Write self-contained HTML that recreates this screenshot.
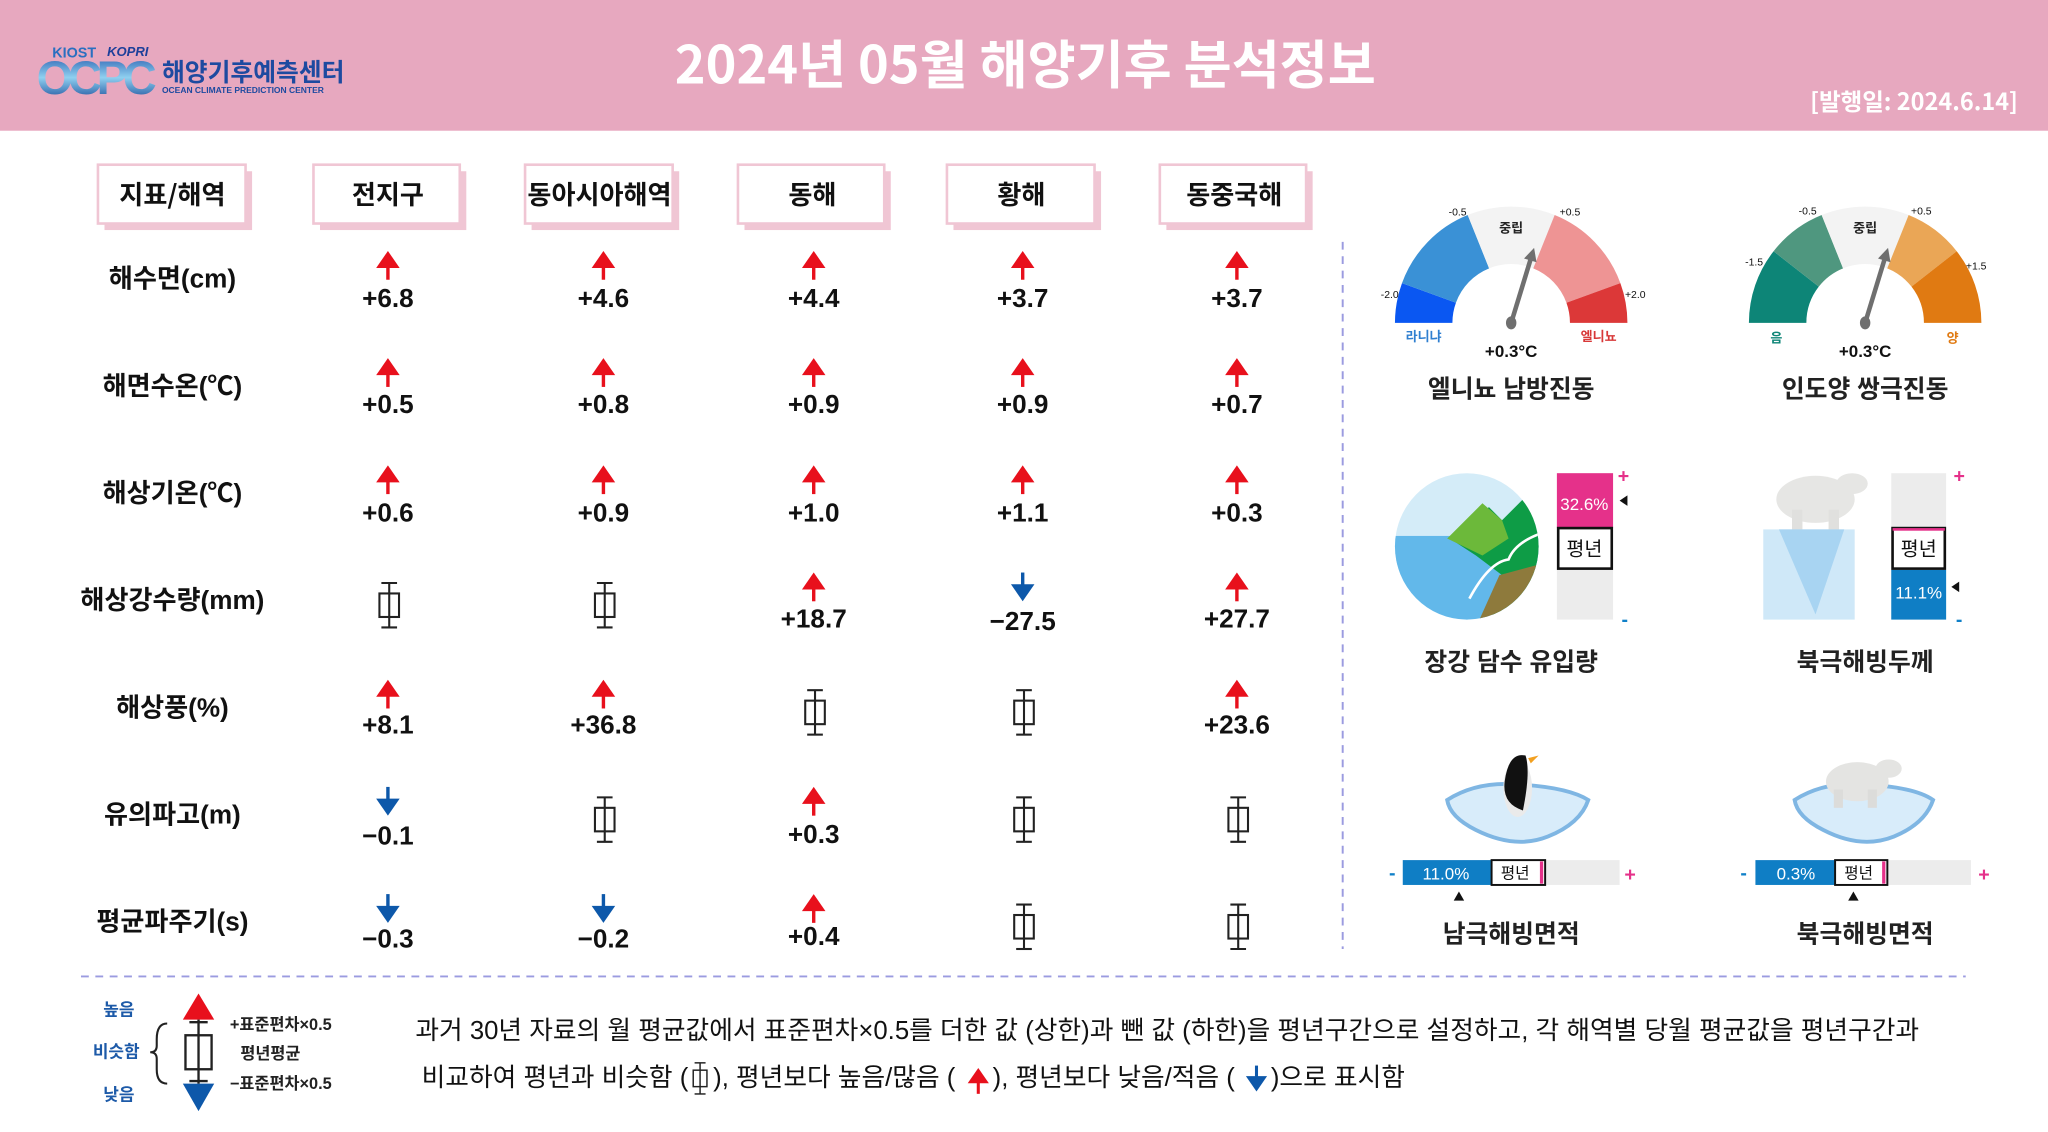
<!DOCTYPE html>
<html><head><meta charset="utf-8">
<style>
html,body{margin:0;padding:0;background:#fff;}
svg{display:block;}
text{font-family:"Liberation Sans","Noto Sans CJK KR",sans-serif;}
.k{font-family:"Noto Sans CJK KR","Liberation Sans",sans-serif;}
</style></head><body>
<svg id="s" width="2048" height="1132" viewBox="0 0 1568 866" preserveAspectRatio="none" xmlns="http://www.w3.org/2000/svg">
<defs>
<linearGradient id="lg" x1="0" y1="0" x2="0" y2="1"><stop offset="0" stop-color="#1c4fa8"/><stop offset="0.5" stop-color="#8fd0f0"/><stop offset="1" stop-color="#0d3d90"/></linearGradient>
<g id="up"><polygon points="-9,3 0,-10 9,3" fill="#e8101c"/><rect x="-1.3" y="2" width="2.6" height="10" fill="#e8101c"/></g>
<g id="dn"><polygon points="-9,-3 0,10 9,-3" fill="#0d58aa"/><rect x="-1.3" y="-12" width="2.6" height="10" fill="#0d58aa"/></g>
<g id="nm" stroke="#222" stroke-width="1.6" fill="none"><line x1="0" y1="-17" x2="0" y2="17"/><line x1="-6" y1="-17" x2="6" y2="-17"/><line x1="-6" y1="17" x2="6" y2="17"/><rect x="-7.5" y="-9" width="15" height="18" fill="#fff"/><line x1="0" y1="-9" x2="0" y2="9"/></g>
</defs>
<!-- header -->
<rect x="0" y="0" width="1568" height="100" fill="#e7a8bf"/>
<text x="40" y="44" font-size="11" font-weight="bold" fill="#2a6fc0">KIOST</text>
<text x="82" y="43" font-size="10" font-weight="bold" font-style="italic" fill="#1d3f9a">KOPRI</text>
<text x="28" y="72" font-size="36" font-weight="bold" fill="url(#lg)" textLength="92">OCPC</text>
<text x="124" y="62" class="k" font-size="19" font-weight="bold" fill="#1d4aa0">해양기후예측센터</text>
<text x="124" y="71" font-size="6.5" font-weight="bold" fill="#1d4aa0">OCEAN CLIMATE PREDICTION CENTER</text>
<text x="785" y="64" text-anchor="middle" class="k" font-size="40" font-weight="bold" fill="#fff">2024년 05월 해양기후 분석정보</text>
<text x="1545" y="84" text-anchor="end" class="k" font-size="18" font-weight="bold" fill="#fff">[발행일: 2024.6.14]</text>
<g id="hd"></g>
<g id="grid"></g>
<!-- row labels -->
<g class="k" font-size="20" font-weight="bold" text-anchor="middle" fill="#111">
<text x="132" y="220">해수면(cm)</text>
<text x="132" y="302">해면수온(℃)</text>
<text x="132" y="384">해상기온(℃)</text>
<text x="132" y="466">해상강수량(mm)</text>
<text x="132" y="548">해상풍(%)</text>
<text x="132" y="630">유의파고(m)</text>
<text x="132" y="712">평균파주기(s)</text>
</g>
<g font-size="20" font-weight="bold" text-anchor="middle" fill="#111">
<text x="297" y="235">+6.8</text><text x="462" y="235">+4.6</text><text x="623" y="235">+4.4</text><text x="783" y="235">+3.7</text><text x="947" y="235">+3.7</text>
<text x="297" y="316">+0.5</text><text x="462" y="316">+0.8</text><text x="623" y="316">+0.9</text><text x="783" y="316">+0.9</text><text x="947" y="316">+0.7</text>
<text x="297" y="399">+0.6</text><text x="462" y="399">+0.9</text><text x="623" y="399">+1.0</text><text x="783" y="399">+1.1</text><text x="947" y="399">+0.3</text>
<text x="623" y="480">+18.7</text><text x="783" y="482">−27.5</text><text x="947" y="480">+27.7</text>
<text x="297" y="561">+8.1</text><text x="462" y="561">+36.8</text><text x="947" y="561">+23.6</text>
<text x="297" y="646">−0.1</text><text x="623" y="645">+0.3</text>
<text x="297" y="725">−0.3</text><text x="462" y="725">−0.2</text><text x="623" y="723">+0.4</text>
</g>
<line x1="1028" y1="185" x2="1028" y2="726" stroke="#9b9be0" stroke-width="1.5" stroke-dasharray="6,5"/>
<line x1="62" y1="747" x2="1505" y2="747" stroke="#9b9be0" stroke-width="1.5" stroke-dasharray="6,5"/>
<!-- gauges -->
<g id="g1"></g>
<g font-size="8" fill="#111" text-anchor="middle">
<text x="1064" y="228">-2.0</text><text x="1116" y="165">-0.5</text><text x="1202" y="165">+0.5</text><text x="1252" y="228">+2.0</text>
<text x="1343" y="203">-1.5</text><text x="1384" y="164">-0.5</text><text x="1471" y="164">+0.5</text><text x="1513" y="206">+1.5</text>
</g>
<g class="k" font-size="10" font-weight="bold" text-anchor="middle">
<text x="1157" y="178" fill="#222">중립</text><text x="1428" y="178" fill="#222">중립</text>
<text x="1090" y="261" fill="#2f7fd0">라니냐</text><text x="1224" y="261" fill="#d83838">엘니뇨</text>
<text x="1360" y="262" fill="#0e8577">음</text><text x="1495" y="262" fill="#e07a12">양</text>
</g>
<g font-size="13" font-weight="bold" text-anchor="middle" fill="#111">
<text x="1157" y="273">+0.3°C</text><text x="1428" y="273">+0.3°C</text>
</g>
<g class="k" font-size="19" font-weight="bold" text-anchor="middle" fill="#222">
<text x="1157" y="304">엘니뇨 남방진동</text><text x="1428" y="304">인도양 쌍극진동</text>
<text x="1157" y="513">장강 담수 유입량</text><text x="1428" y="513">북극해빙두께</text>
<text x="1157" y="721">남극해빙면적</text><text x="1428" y="721">북극해빙면적</text>
</g>
<!-- changjiang -->
<clipPath id="ov"><ellipse cx="1123" cy="418" rx="55" ry="56"/></clipPath>
<g clip-path="url(#ov)">
<rect x="1060" y="360" width="130" height="120" fill="#d4ecf8"/>
<rect x="1060" y="410" width="130" height="70" fill="#62b8ea"/>
<polygon points="1110,412 1140,388 1150,398 1168,380 1185,385 1185,480 1140,480 1150,440 1130,425" fill="#0e9c46"/>
<polygon points="1108,412 1135,385 1150,398 1155,412 1135,425" fill="#6cb93a"/>
<polygon points="1130,480 1148,440 1185,430 1185,480" fill="#8e7a3c"/>
<path d="M1125,458 Q1140,430 1155,428 Q1160,415 1180,408" stroke="#fff" stroke-width="2" fill="none"/>
</g>
<rect x="1192" y="362" width="43" height="112" fill="#ececec"/>
<rect x="1192" y="362" width="43" height="42" fill="#e5318a"/>
<text x="1213" y="390" text-anchor="middle" font-size="13" fill="#fff">32.6%</text>
<rect x="1193" y="404" width="41" height="31" fill="#fff" stroke="#111" stroke-width="2"/>
<text x="1213" y="425" text-anchor="middle" class="k" font-size="15" fill="#111">평년</text>
<text x="1243" y="369" text-anchor="middle" font-size="15" font-weight="bold" fill="#e5318a">+</text>
<text x="1244" y="479" text-anchor="middle" font-size="15" font-weight="bold" fill="#1080c8">-</text>
<polygon points="1240,383 1246,379 1246,387" fill="#111"/>
<!-- arctic thickness -->
<ellipse cx="1390" cy="382" rx="30" ry="18" fill="#e6e6e4"/>
<ellipse cx="1418" cy="370" rx="12" ry="8" fill="#e6e6e4"/>
<rect x="1372" y="390" width="8" height="16" fill="#e0e0de"/><rect x="1400" y="390" width="8" height="16" fill="#e0e0de"/>
<rect x="1350" y="405" width="70" height="69" fill="#cfe8f8"/>
<polygon points="1362,405 1412,405 1390,470" fill="#a8d4f2"/>
<rect x="1448" y="362" width="42" height="112" fill="#ececec"/>
<rect x="1448" y="436" width="42" height="38" fill="#0f7ec5"/>
<text x="1469" y="458" text-anchor="middle" font-size="13" fill="#fff">11.1%</text>
<rect x="1449" y="404" width="40" height="31" fill="#fff" stroke="#111" stroke-width="2"/>
<rect x="1449" y="404" width="40" height="2" fill="#e5318a"/>
<text x="1469" y="425" text-anchor="middle" class="k" font-size="15" fill="#111">평년</text>
<text x="1500" y="369" text-anchor="middle" font-size="15" font-weight="bold" fill="#e5318a">+</text>
<text x="1500" y="479" text-anchor="middle" font-size="15" font-weight="bold" fill="#1080c8">-</text>
<polygon points="1494,449 1500,445 1500,453" fill="#111"/>
<!-- floes -->
<path d="M1108,612 Q1130,598 1160,600 Q1200,602 1216,612 Q1210,630 1185,640 Q1160,650 1130,635 Q1110,625 1108,612Z" fill="#d8ecfa" stroke="#7fb6e3" stroke-width="3"/>
<ellipse cx="1162" cy="603" rx="11" ry="22" fill="#eaeaea"/>
<path d="M1152,598 Q1155,575 1168,578 Q1172,590 1166,620 Q1150,615 1152,598Z" fill="#111"/>
<polygon points="1170,580 1178,578 1172,584" fill="#f2a020"/>
<path d="M1374,612 Q1396,598 1426,600 Q1466,602 1480,612 Q1474,630 1450,640 Q1425,650 1396,635 Q1376,625 1374,612Z" fill="#d8ecfa" stroke="#7fb6e3" stroke-width="3"/>
<ellipse cx="1422" cy="598" rx="24" ry="15" fill="#e4e4e2"/>
<ellipse cx="1446" cy="588" rx="10" ry="7" fill="#e4e4e2"/>
<rect x="1404" y="604" width="7" height="14" fill="#dcdcda"/><rect x="1430" y="604" width="7" height="14" fill="#dcdcda"/>
<!-- area bars -->
<rect x="1074" y="658" width="166" height="19" fill="#ececec"/>
<rect x="1074" y="658" width="68" height="19" fill="#0f7ec5"/>
<text x="1107" y="673" text-anchor="middle" font-size="13" fill="#fff">11.0%</text>
<rect x="1142" y="658" width="41" height="19" fill="#fff" stroke="#111" stroke-width="1.5"/>
<rect x="1179" y="659" width="2.5" height="17" fill="#e5318a"/>
<text x="1160" y="672" text-anchor="middle" class="k" font-size="12" fill="#111">평년</text>
<text x="1066" y="673" text-anchor="middle" font-size="15" font-weight="bold" fill="#1080c8">-</text>
<text x="1248" y="674" text-anchor="middle" font-size="15" font-weight="bold" fill="#e5318a">+</text>
<polygon points="1117,682 1113,689 1121,689" fill="#111"/>
<rect x="1344" y="658" width="165" height="19" fill="#ececec"/>
<rect x="1344" y="658" width="61" height="19" fill="#0f7ec5"/>
<text x="1375" y="673" text-anchor="middle" font-size="13" fill="#fff">0.3%</text>
<rect x="1405" y="658" width="40" height="19" fill="#fff" stroke="#111" stroke-width="1.5"/>
<rect x="1441" y="659" width="2.5" height="17" fill="#e5318a"/>
<text x="1423" y="672" text-anchor="middle" class="k" font-size="12" fill="#111">평년</text>
<text x="1335" y="673" text-anchor="middle" font-size="15" font-weight="bold" fill="#1080c8">-</text>
<text x="1519" y="674" text-anchor="middle" font-size="15" font-weight="bold" fill="#e5318a">+</text>
<polygon points="1419,682 1415,689 1423,689" fill="#111"/>
<!-- legend -->
<g class="k" font-size="13" font-weight="bold" fill="#1d5aa8" text-anchor="middle">
<text x="91" y="777">높음</text><text x="89" y="809">비슷함</text><text x="91" y="842">낮음</text>
</g>
<path d="M128,783 Q120,783 120,795 L120,800 Q120,805 115,805 Q120,805 120,810 L120,818 Q120,829 128,829" fill="none" stroke="#222" stroke-width="1.6"/>
<polygon points="140,780 152,760 164,780" fill="#e8101c"/>
<polygon points="140,829 152,850 164,829" fill="#0d58aa"/>
<g stroke="#222" stroke-width="1.8" fill="none"><line x1="152" y1="780" x2="152" y2="829"/><line x1="145" y1="782" x2="159" y2="782"/><line x1="145" y1="827" x2="159" y2="827"/><rect x="142" y="792" width="20" height="26" fill="#fff"/><line x1="152" y1="792" x2="152" y2="818"/></g>
<g class="k" font-size="12.5" font-weight="bold" fill="#222">
<text x="176" y="788">+표준편차×0.5</text><text x="184" y="810">평년평균</text><text x="176" y="833">−표준편차×0.5</text>
</g>
<g class="k" font-size="19.7" fill="#111">
<text x="318" y="795">과거 30년 자료의 월 평균값에서 표준편차×0.5를 더한 값 (상한)과 뺀 값 (하한)을 평년구간으로 설정하고, 각 해역별 당월 평균값을 평년구간과</text>
<text x="527" y="831" text-anchor="end">비교하여 평년과 비슷함 (</text>
<text x="546" y="831">), 평년보다 높음/많음 (</text>
<text x="740" y="831" text-anchor="end" fill="none"> </text>
<text x="760" y="831">), 평년보다 낮음/적음 (</text>
<text x="973" y="831">)으로 표시함</text>
</g>
<use href="#nm" transform="translate(536,825) scale(0.7)"/>
<use href="#up" transform="translate(749,826) scale(0.9)"/>
<use href="#dn" transform="translate(962,826) scale(0.9)"/>
<text id="hdtext" class="k" font-size="20" font-weight="bold" text-anchor="middle" fill="#111">
<tspan x="132" y="156">지표/해역</tspan><tspan x="297" y="156">전지구</tspan><tspan x="459" y="156">동아시아해역</tspan><tspan x="622" y="156">동해</tspan><tspan x="782" y="156">황해</tspan><tspan x="945" y="156">동중국해</tspan>
</text>
</svg>
<script>
var NS="http://www.w3.org/2000/svg",s=document.getElementById('s');
function el(t,a,p){var e=document.createElementNS(NS,t);for(var k in a)e.setAttribute(k,a[k]);(p||s).appendChild(e);return e;}
var hd=document.getElementById('hd');
[[75,188],[240,352],[402,515],[565,677],[725,838],[888,1000]].forEach(function(b){
 el('rect',{x:b[0]+5,y:131,width:b[1]-b[0],height:45,fill:'#f0c6d4'},hd);
 el('rect',{x:b[0],y:126,width:b[1]-b[0],height:45,fill:'#fff',stroke:'#f0c6d4','stroke-width':2},hd);
});
s.appendChild(document.getElementById('hdtext'));
var cols=[297,462,623,783,947],rows=[213,295,377,459,541,623,705];
var d=[['u','u','u','u','u'],['u','u','u','u','u'],['u','u','u','u','u'],['n','n','u','d','u'],['u','u','n','n','u'],['d','n','u','n','n'],['d','d','u','n','n']];
var g=document.getElementById('grid');
d.forEach(function(r,i){r.forEach(function(c,j){
 var x=cols[j],y=rows[i];
 if(c=='u')el('use',{href:'#up',transform:'translate('+x+','+(y-11)+')'},g);
 else if(c=='d')el('use',{href:'#dn',transform:'translate('+x+','+(y-9)+')'},g);
 else el('use',{href:'#nm',transform:'translate('+(x+1)+','+(y+4)+')'},g);
});});
function seg(cx,cy,r0,r1,a0,a1,f,p){
 function pt(r,a){a=a*Math.PI/180;return (cx+r*Math.cos(a)).toFixed(1)+','+(cy-r*Math.sin(a)).toFixed(1);}
 el('path',{d:'M'+pt(r1,a0)+' A'+r1+','+r1+' 0 0 1 '+pt(r1,a1)+' L'+pt(r0,a1)+' A'+r0+','+r0+' 0 0 0 '+pt(r0,a0)+'Z',fill:f},p);
}
var g1=document.getElementById('g1');
function gauge(cx,cy,sg){
 sg.forEach(function(q){seg(cx,cy,45,89,q[0],q[1],q[2],g1);});
 var a=73*Math.PI/180,L=60,tx=cx+L*Math.cos(a),ty=cy-L*Math.sin(a);
 el('line',{x1:cx,y1:cy,x2:cx+(L-8)*Math.cos(a),y2:cy-(L-8)*Math.sin(a),stroke:'#6f6f6f','stroke-width':3.5},g1);
 var px=Math.cos(a+Math.PI/2)*5,py=-Math.sin(a+Math.PI/2)*5,bx=cx+(L-10)*Math.cos(a),by=cy-(L-10)*Math.sin(a);
 el('polygon',{points:tx+','+ty+' '+(bx+px)+','+(by+py)+' '+(bx-px)+','+(by-py),fill:'#6f6f6f'},g1);
 el('ellipse',{cx:cx,cy:cy,rx:4,ry:5,fill:'#6f6f6f'},g1);
}
gauge(1157,247,[[180,160,'#0a57f2'],[160,112,'#3a91d6'],[112,68,'#f3f3f3'],[68,20,'#ee9494'],[20,0,'#dc3838']]);
gauge(1428,247,[[180,142,'#0d8577'],[142,112,'#4f977f'],[112,68,'#f3f3f3'],[68,38,'#eaa656'],[38,0,'#e07a12']]);
</script>
</body></html>
